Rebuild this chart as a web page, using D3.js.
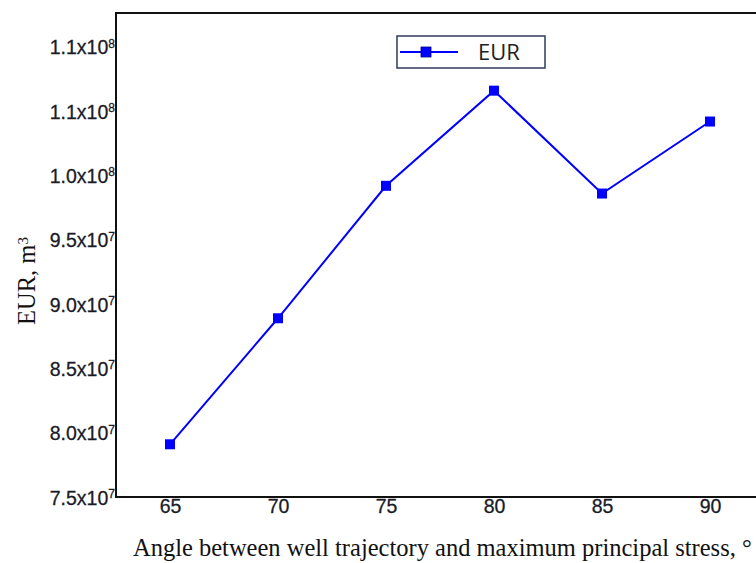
<!DOCTYPE html>
<html>
<head>
<meta charset="utf-8">
<script src="https://cdn.jsdelivr.net/npm/d3@7/dist/d3.min.js"></script>
<style>
  html, body { margin: 0; padding: 0; background: #fff; }
  svg { display: block; }
</style>
</head>
<body>
<svg id="chart" width="756" height="563"></svg>
<script>
// Estimated ultimate recovery versus well/stress angle
const angles = [65, 70, 75, 80, 85, 90];
const eurValues = [7.91e7, 8.89e7, 9.92e7, 1.066e8, 9.86e7, 1.042e8];
const yTickValues = [7.5e7, 8.0e7, 8.5e7, 9.0e7, 9.5e7, 1.0e8, 1.05e8, 1.1e8];
const yTickMantissa = ["7.5", "8.0", "8.5", "9.0", "9.5", "1.0", "1.1", "1.1"];
const yTickExponent = ["7", "7", "7", "7", "7", "8", "8", "8"];
const seriesName = "EUR";

const svg = d3.select("#chart");
const plot = { left: 116, top: 13, right: 764, bottom: 497 };

const x = d3.scaleLinear().domain([62.5, 92.5]).range([plot.left, plot.right]);
const y = d3.scaleLinear().domain([7.5e7, 1.1264e8]).range([plot.bottom, plot.top]);

// Frame
svg.append("rect")
  .attr("x", plot.left).attr("y", plot.top)
  .attr("width", plot.right - plot.left).attr("height", plot.bottom - plot.top)
  .attr("fill", "none").attr("stroke", "#111").attr("stroke-width", 2);

// Y axis labels (mantissa x 10^exponent)
const yAxis = d3.axisLeft(y).tickValues(yTickValues).tickSize(0).tickPadding(0).tickFormat(() => "");
const gy = svg.append("g").attr("transform", `translate(${plot.left},0)`).call(yAxis);
gy.select(".domain").remove();
gy.selectAll(".tick").each(function (d, i) {
  const t = d3.select(this).append("text")
    .attr("x", -1).attr("y", 0).attr("dy", "0.36em")
    .attr("text-anchor", "end")
    .attr("fill", "#1b1b28")
    .attr("stroke", "#1b1b28").attr("stroke-width", 0.3)
    .style("font-family", "'Liberation Sans', Arial, sans-serif")
    .style("font-size", "19.5px");
  t.append("tspan").text(yTickMantissa[i] + "x10");
  t.append("tspan").attr("dy", "-0.55em").style("font-size", "12px").text(yTickExponent[i]);
});

// X axis labels
const xAxis = d3.axisBottom(x).tickValues(angles).tickSize(0).tickPadding(0).tickFormat(d3.format("d"));
const gx = svg.append("g").attr("transform", `translate(0,${plot.bottom})`).call(xAxis);
gx.select(".domain").remove();
gx.selectAll(".tick text")
  .attr("y", 2).attr("dy", "0.71em")
  .attr("fill", "#1b1b28")
  .attr("stroke", "#1b1b28").attr("stroke-width", 0.3)
  .style("font-family", "'Liberation Sans', Arial, sans-serif")
  .style("font-size", "19.5px");

// Axis titles
svg.append("text")
  .attr("x", 133).attr("y", 556)
  .attr("fill", "#111")
  .style("font-family", "'Liberation Serif', 'Times New Roman', serif")
  .style("font-size", "24.5px")
  .text("Angle between well trajectory and maximum principal stress, °");

const yt = svg.append("text")
  .attr("transform", "translate(35,281) rotate(-90)")
  .attr("text-anchor", "middle")
  .attr("fill", "#111")
  .style("font-family", "'Liberation Serif', 'Times New Roman', serif")
  .style("font-size", "24.5px");
yt.append("tspan").text("EUR, m");
yt.append("tspan").attr("dy", "-0.5em").style("font-size", "15px").text("3");

// Series line and markers
const data = angles.map((a, i) => ({ a, v: eurValues[i] }));
const blue = "#0000ff";
svg.append("path")
  .datum(data)
  .attr("fill", "none").attr("stroke", blue).attr("stroke-width", 2)
  .attr("d", d3.line().x(d => x(d.a)).y(d => y(d.v)));

const m = 10;
svg.selectAll("rect.marker").data(data).join("rect")
  .attr("class", "marker")
  .attr("x", d => x(d.a) - m / 2).attr("y", d => y(d.v) - m / 2)
  .attr("width", m).attr("height", m)
  .attr("fill", blue);

// Legend
const lg = svg.append("g").attr("transform", "translate(397,36)");
lg.append("rect").attr("width", 148).attr("height", 32)
  .attr("fill", "#fff").attr("stroke", "#2e3b5c").attr("stroke-width", 1.5);
lg.append("line").attr("x1", 3).attr("x2", 61).attr("y1", 16).attr("y2", 16)
  .attr("stroke", blue).attr("stroke-width", 2);
lg.append("rect").attr("x", 29 - m / 2).attr("y", 16 - m / 2).attr("width", m).attr("height", m)
  .attr("fill", blue).attr("stroke", "#00008b").attr("stroke-width", 0.8);
lg.append("text").attr("x", 81).attr("y", 16).attr("dy", "0.36em")
  .attr("fill", "#222")
  .style("font-family", "'Open Sans', sans-serif")
  .style("font-size", "22px")
  .text(seriesName);
</script>
</body>
</html>
